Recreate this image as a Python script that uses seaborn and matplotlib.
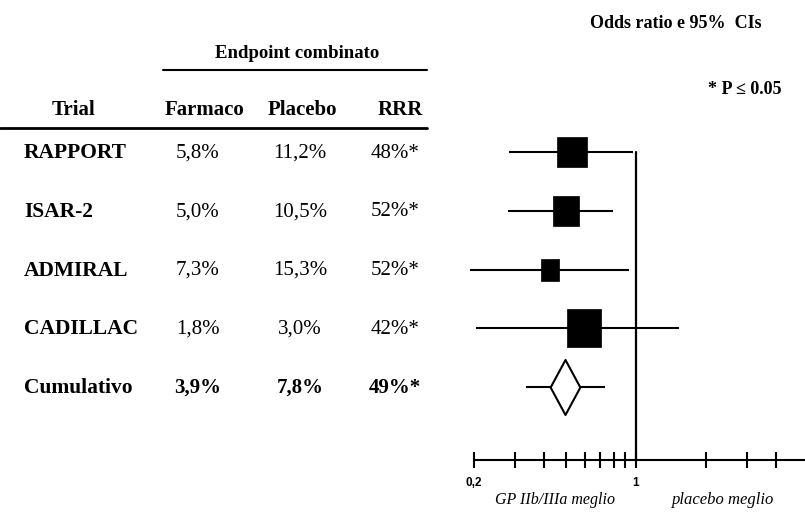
import numpy as np
import matplotlib
matplotlib.use("Agg")
import matplotlib.pyplot as plt
from matplotlib.lines import Line2D
import seaborn as sns

# ---- data ----
trials = ["RAPPORT", "ISAR-2", "ADMIRAL", "CADILLAC", "Cumulativo"]
farmaco = ["5,8%", "5,0%", "7,3%", "1,8%", "3,9%"]
placebo = ["11,2%", "10,5%", "15,3%", "3,0%", "7,8%"]
rrr = ["48%*", "52%*", "52%*", "42%*", "49%*"]
odds_ratio = [0.531, 0.50, 0.427, 0.598, 0.496]
ci_low = [0.284, 0.280, 0.192, 0.204, 0.335]
ci_high = [0.968, 0.794, 0.93, 1.53, 0.733]
weight_size = [22.3, 21.3, 15.6, 26.9]   # marker heights (pt) of the study squares
weight_aspect = [0.97, 0.87, 0.82, 0.89]
tick_values = [0.2, 0.3, 0.4, 0.5, 0.6, 0.7, 0.8, 0.9, 1, 2, 3, 4]
tick_labels = ["0,2", "", "", "", "", "", "", "", "1", "", "", ""]

sns.set_theme(style="white")
plt.rcParams["font.family"] = ["Liberation Serif", "DejaVu Serif"]
plt.rcParams["text.color"] = "black"
plt.rcParams["xtick.color"] = "black"
plt.rcParams["xtick.labelcolor"] = "black"

W, H = 805, 516
fig = plt.figure(figsize=(W / 100, H / 100), dpi=100)


def fx(x):
    return x / W


def fy(y):
    return 1 - y / H


row0, rstep = 152.0, 58.75
ppd = 232.0  # pixels per decade
x_one = 636.0

ax = fig.add_axes([fx(440), 0, fx(805) - fx(440), 1])
ax.set_xscale("log")
ax.set_xlim(10 ** ((440 - x_one) / ppd), 10 ** ((805 - x_one) / ppd))
ax.set_ylim((H - row0) / rstep, -row0 / rstep)
ax.set_facecolor("none")
axis_row = (460 - row0) / rstep

# CI whiskers
rows = np.arange(len(trials))
ax.hlines(rows, ci_low, ci_high, colors="black", lw=1.5, zorder=2)

# study squares
for i, (s, a) in enumerate(zip(weight_size, weight_aspect)):
    verts = [(-a / 2, -0.5), (a / 2, -0.5), (a / 2, 0.5), (-a / 2, 0.5), (-a / 2, -0.5)]
    ax.plot([odds_ratio[i]], [rows[i]], marker=verts, ms=s, color="black",
            mec="black", mew=0.5, ls="none", zorder=3)

# cumulative diamond
dverts = [(-0.27, 0), (0, 0.5), (0.27, 0), (0, -0.5), (-0.27, 0)]
ax.plot([odds_ratio[4]], [rows[4]], marker=dverts, ms=39.6, mfc="white",
        mec="black", mew=1.5, ls="none", zorder=3)

# line of no effect
ax.plot([1, 1], [rows[0], axis_row], color="black", lw=1.6, zorder=1)

# axis
for k in ["top", "left", "right"]:
    ax.spines[k].set_visible(False)
ax.spines["bottom"].set_position(("data", axis_row))
ax.spines["bottom"].set_bounds(0.2, ax.get_xlim()[1])
ax.spines["bottom"].set_linewidth(1.5)
ax.spines["bottom"].set_color("black")
ax.set_yticks([])
ax.set_xticks(tick_values)
ax.set_xticklabels(tick_labels)
ax.xaxis.set_minor_locator(matplotlib.ticker.NullLocator())
ax.tick_params(axis="x", which="major", direction="inout", length=11, width=1.5,
               color="black", labelcolor="black", pad=7, bottom=True)
for lab in ax.get_xticklabels():
    lab.set_fontfamily("Liberation Sans")
    lab.set_fontweight("bold")
    lab.set_fontsize(8.5)

# labels below axis
fig.text(fx(555), fy(500), "GP IIb/IIIa meglio", ha="center", va="center",
         fontsize=11.5, style="italic")
fig.text(fx(723), fy(500), "placebo meglio", ha="center", va="center",
         fontsize=12, style="italic")

# top-right text
fig.text(fx(676), fy(23), "Odds ratio e 95%  CIs", ha="center", va="center",
         fontsize=13, fontweight="bold")
fig.text(fx(745), fy(90), "* P \u2264 0.05", ha="center", va="center",
         fontsize=13, fontweight="bold")

# table headers
fig.text(fx(297), fy(53), "Endpoint combinato", ha="center", va="center",
         fontsize=13.5, fontweight="bold")
fig.add_artist(Line2D([fx(163), fx(427)], [fy(70), fy(70)], color="black", lw=1.5))
fig.add_artist(Line2D([fx(0), fx(427)], [fy(128), fy(128)], color="black", lw=2))
hdr_y = 110
fig.text(fx(73), fy(hdr_y), "Trial", ha="center", va="center", fontsize=15, fontweight="bold")
fig.text(fx(204), fy(hdr_y), "Farmaco", ha="center", va="center", fontsize=15, fontweight="bold")
fig.text(fx(302), fy(hdr_y), "Placebo", ha="center", va="center", fontsize=15, fontweight="bold")
fig.text(fx(400), fy(hdr_y), "RRR", ha="center", va="center", fontsize=15, fontweight="bold")

for i in range(len(trials)):
    y = row0 + i * rstep + 1
    w = "bold" if i == len(trials) - 1 else "normal"
    fig.text(fx(24), fy(y), trials[i], ha="left", va="center", fontsize=15.5, fontweight="bold")
    fig.text(fx(198), fy(y), farmaco[i], ha="center", va="center", fontsize=15, fontweight=w)
    fig.text(fx(300), fy(y), placebo[i], ha="center", va="center", fontsize=15, fontweight=w)
    fig.text(fx(395), fy(y), rrr[i], ha="center", va="center", fontsize=15, fontweight=w)

fig.savefig("out.png", dpi=100)
